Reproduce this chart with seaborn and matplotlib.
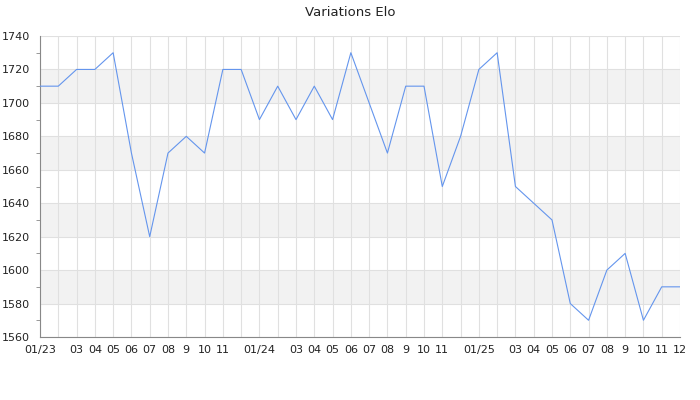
import matplotlib
matplotlib.use("Agg")
import matplotlib.pyplot as plt
import numpy as np
import pandas as pd
import seaborn as sns

# Elo mensuel de 01/23 a 12/25
mois = ["01/23", "", "03", "04", "05", "06", "07", "08", "9", "10", "11", "",
        "01/24", "", "03", "04", "05", "06", "07", "08", "9", "10", "11", "",
        "01/25", "", "03", "04", "05", "06", "07", "08", "9", "10", "11", "12"]
elo = [1710, 1710, 1720, 1720, 1730, 1670, 1620, 1670, 1680, 1670, 1720, 1720,
       1690, 1710, 1690, 1710, 1690, 1730, 1700, 1670, 1710, 1710, 1650, 1680,
       1720, 1730, 1650, 1640, 1630, 1580, 1570, 1600, 1610, 1570, 1590, 1590]

df = pd.DataFrame({"idx": np.arange(len(elo)), "elo": elo})

sns.set_style("white")
plt.rcParams["font.family"] = ["DejaVu Sans"]

fig = plt.figure(figsize=(7, 4), dpi=100)
ax = fig.add_axes([40 / 700, 63 / 400, 640 / 700, 301 / 400])

# bandes grises alternees
for lo in range(1580, 1740, 40):
    ax.axhspan(lo, lo + 20, color="#f2f2f2", zorder=0, lw=0)

sns.lineplot(data=df, x="idx", y="elo", ax=ax, color="#6495ed", linewidth=0.8, zorder=3)

ax.set_xlim(0, len(elo) - 1)
ax.set_ylim(1560, 1740)
ax.set_xticks(df["idx"])
ax.set_xticklabels(mois, fontsize=8, color="#222222")
ax.set_yticks(np.arange(1560, 1741, 20))
ax.set_yticks(np.arange(1570, 1740, 20), minor=True)
ax.tick_params(axis="y", which="major", labelsize=8, length=5, pad=2, color="#888888", labelcolor="#222222")
ax.tick_params(axis="y", which="minor", length=3, color="#888888", left=True)
ax.tick_params(axis="x", length=0, pad=6)
ax.grid(True, which="major", color="#e0e0e0", linewidth=0.8, zorder=1)
ax.set_axisbelow(True)
ax.set_xlabel("")
ax.set_ylabel("")

for s in ["top", "right"]:
    ax.spines[s].set_visible(False)
for s in ["left", "bottom"]:
    ax.spines[s].set_color("#888888")
    ax.spines[s].set_linewidth(0.8)

fig.suptitle("Variations Elo", fontsize=9.5, y=0.985, color="#222222")
fig.savefig("out.png", dpi=100)
